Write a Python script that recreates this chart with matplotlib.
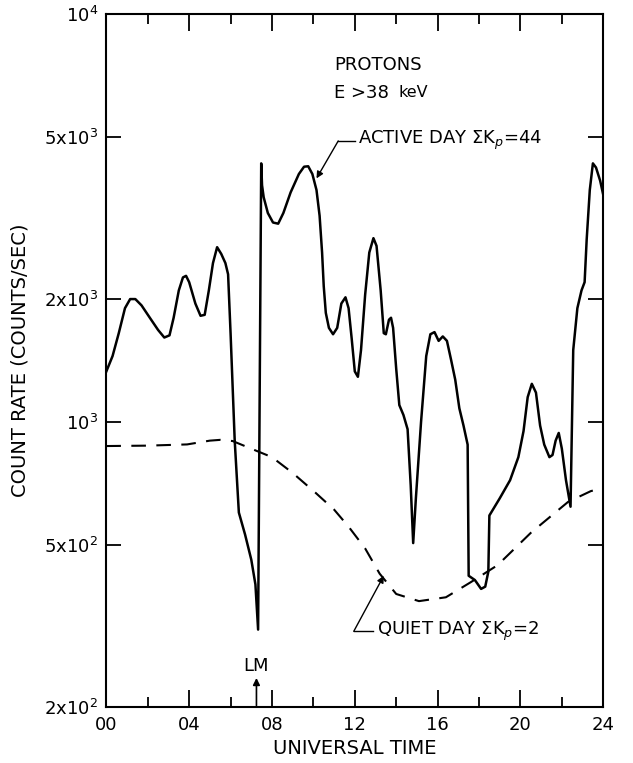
import matplotlib
matplotlib.use("Agg")
import matplotlib.pyplot as plt
from matplotlib.ticker import FixedLocator, NullLocator

# active day, sigma Kp = 44 (UT hours, counts/sec)
active_t = [0.0, 0.3, 0.6, 0.9, 1.15, 1.4, 1.7, 2.1, 2.5, 2.8, 3.05, 3.25,
            3.5, 3.7, 3.85, 4.0, 4.3, 4.55, 4.75, 4.95, 5.15, 5.35, 5.55,
            5.75, 5.88, 6.0, 6.2, 6.4, 6.7, 7.0, 7.2, 7.33, 7.48, 7.52, 7.6,
            7.8, 8.05, 8.3, 8.55, 8.9, 9.3, 9.55, 9.75, 9.95, 10.15, 10.3,
            10.42, 10.5, 10.6, 10.75, 10.95, 11.15, 11.35, 11.55, 11.7, 11.85,
            12.0, 12.15, 12.3, 12.5, 12.7, 12.9, 13.05, 13.25, 13.4, 13.5,
            13.65, 13.75, 13.85, 14.0, 14.15, 14.35, 14.55, 14.7, 14.82,
            14.95, 15.2, 15.45, 15.65, 15.85, 16.05, 16.25, 16.45, 16.65,
            16.85, 17.05, 17.25, 17.45, 17.5, 17.8, 18.1, 18.3, 18.45, 18.5,
            19.0, 19.5, 19.9, 20.15, 20.35, 20.55, 20.75, 20.95, 21.15, 21.4,
            21.55, 21.7, 21.85, 22.0, 22.2, 22.42, 22.55, 22.75, 22.95, 23.1,
            23.2, 23.35, 23.5, 23.65, 23.85, 24.0]
active_rate = [1330, 1450, 1650, 1900, 2000, 2000, 1930, 1800, 1680, 1610,
               1630, 1800, 2100, 2260, 2280, 2200, 1950, 1820, 1830, 2100,
               2450, 2680, 2580, 2450, 2300, 1650, 900, 600, 530, 460, 400,
               310, 4300, 3800, 3550, 3250, 3080, 3060, 3250, 3650, 4050,
               4220, 4230, 4050, 3700, 3200, 2600, 2150, 1850, 1700, 1640,
               1700, 1950, 2020, 1900, 1600, 1330, 1290, 1500, 2050, 2600,
               2820, 2700, 2100, 1650, 1640, 1780, 1800, 1700, 1350, 1100,
               1040, 960, 700, 505, 650, 1000, 1450, 1640, 1660, 1580, 1620,
               1580, 1420, 1270, 1080, 980, 880, 420, 410, 390, 395, 430, 590,
               650, 720, 820, 950, 1150, 1240, 1180, 980, 880, 820, 830, 900,
               940, 860, 720, 620, 1500, 1900, 2100, 2200, 2800, 3700, 4300,
               4200, 3900, 3600]

# quiet day, sigma Kp = 2
quiet_t = [0.0, 2.0, 3.9, 5.0, 5.5, 6.1, 7.0, 8.0, 9.0, 10.1, 11.0, 11.7,
           12.5, 13.2, 14.0, 15.1, 16.4, 17.6, 18.9, 20.5, 22.3, 23.4, 24.0]
quiet_rate = [873, 875, 881, 900, 904, 898, 860, 820, 750, 671, 610, 554,
              490, 425, 379, 364, 372, 405, 446, 535, 637, 677, 690]

x_major = [0, 4, 8, 12, 16, 20, 24]
x_labels = ["00", "04", "08", "12", "16", "20", "24"]
x_minor = [2, 6, 10, 14, 18, 22]
y_ticks = [200, 500, 1000, 2000, 5000, 10000]
y_labels = [r"2x10$^2$", r"5x10$^2$", r"10$^3$", r"2x10$^3$",
            r"5x10$^3$", r"10$^4$"]

plt.rcParams["font.family"] = "DejaVu Sans"
plt.rcParams["mathtext.fontset"] = "dejavusans"

fig = plt.figure(figsize=(6.33, 7.63), dpi=100)
ax = fig.add_axes([0.168, 0.073, 0.785, 0.909])

ax.plot(active_t, active_rate, color="black", lw=1.8)
ax.plot(quiet_t, quiet_rate, color="black", lw=1.5, dashes=(7, 5))

ax.set_yscale("log")
ax.set_xlim(0, 24)
ax.set_ylim(200, 10000)

ax.xaxis.set_major_locator(FixedLocator(x_major))
ax.xaxis.set_minor_locator(FixedLocator(x_minor))
ax.set_xticklabels(x_labels)
ax.yaxis.set_major_locator(FixedLocator(y_ticks))
ax.yaxis.set_minor_locator(NullLocator())
ax.set_yticklabels(y_labels)

ax.tick_params(axis="x", which="major", direction="in", length=12, width=1.3,
               top=True, labelsize=13, pad=6)
ax.tick_params(axis="x", which="minor", direction="in", length=7, width=1.3,
               top=True)
ax.tick_params(axis="y", which="major", direction="in", length=11, width=1.3,
               right=True, labelsize=13, pad=6)
for s in ax.spines.values():
    s.set_linewidth(1.5)

ax.set_xlabel("UNIVERSAL TIME", fontsize=14, labelpad=4)
ax.set_ylabel("COUNT RATE (COUNTS/SEC)", fontsize=14, labelpad=10)

ax.text(11.0, 7500, "PROTONS", fontsize=13, va="center")
ax.text(11.0, 6400, "E >38", fontsize=13, va="center")
ax.text(14.1, 6400, "keV", fontsize=11.5, va="center")

ax.text(12.15, 4900, r"ACTIVE DAY $\Sigma$K$_p$=44", fontsize=13, va="center")
ax.plot([12.0, 11.2], [4880, 4880], color="black", lw=1.0)
ax.annotate("", xy=(10.15, 3950), xytext=(11.2, 4880),
            arrowprops=dict(arrowstyle="-|>", color="black", lw=1.0,
                            mutation_scale=10, shrinkA=0, shrinkB=0))

ax.text(13.05, 307, r"QUIET DAY $\Sigma$K$_p$=2", fontsize=13, va="center")
ax.plot([12.9, 11.95], [307, 307], color="black", lw=1.0)
ax.annotate("", xy=(13.4, 420), xytext=(11.95, 307),
            arrowprops=dict(arrowstyle="-|>", color="black", lw=1.0,
                            mutation_scale=10, shrinkA=0, shrinkB=0))

ax.text(7.25, 252, "LM", fontsize=13, ha="center", va="center")
ax.annotate("", xy=(7.25, 236), xytext=(7.25, 202),
            arrowprops=dict(arrowstyle="-|>", color="black", lw=1.2,
                            mutation_scale=10, shrinkA=0, shrinkB=0))

fig.savefig("out.png", dpi=100)
plt.close(fig)
